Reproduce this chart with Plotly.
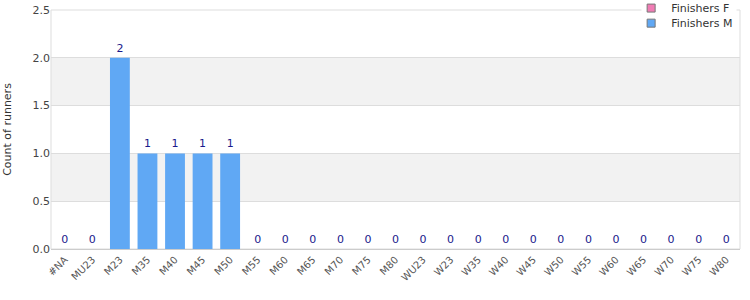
import plotly.graph_objects as go

categories = ["#NA", "MU23", "M23", "M35", "M40", "M45", "M50", "M55", "M60", "M65",
              "M70", "M75", "M80", "WU23", "W23", "W35", "W40", "W45", "W50", "W55",
              "W60", "W65", "W70", "W75", "W80"]
finishers_m = [0, 0, 2, 1, 1, 1, 1, 0, 0, 0, 0, 0, 0, 0, 0, 0, 0, 0, 0, 0, 0, 0, 0, 0, 0]
finishers_f = [None] * len(categories)
y_ticks = [0.0, 0.5, 1.0, 1.5, 2.0, 2.5]

FONT = "DejaVu Sans"
COLOR_F = "#f07cb4"
COLOR_M = "#60a8f4"

fig = go.Figure()
fig.add_trace(go.Bar(
    name="Finishers F", x=categories, y=finishers_f,
    marker=dict(color=COLOR_F), showlegend=False, legendgroup="F",
))
fig.add_trace(go.Bar(
    name="Finishers M", x=categories, y=finishers_m,
    marker=dict(color=COLOR_M, line=dict(width=0)),
    text=[str(v) for v in finishers_m], textposition="outside",
    textfont=dict(color="#1a1a8c", size=11, family=FONT),
    cliponaxis=False, width=0.72, showlegend=False, legendgroup="M",
))
# legend entries
fig.add_trace(go.Scatter(
    name="Finishers F", x=[categories[0]], y=[None], mode="markers",
    marker=dict(symbol="square", size=8, color=COLOR_F, line=dict(color="#777777", width=1)),
    legend="legend", legendgroup="F",
))
fig.add_trace(go.Scatter(
    name="Finishers M", x=[categories[0]], y=[None], mode="markers",
    marker=dict(symbol="square", size=8, color=COLOR_M, line=dict(color="#777777", width=1)),
    legend="legend2", legendgroup="M",
))

shapes = []
for i in range(len(y_ticks) - 1):
    if i % 2 == 1:
        shapes.append(dict(type="rect", xref="paper", yref="y", x0=0, x1=1,
                           y0=y_ticks[i], y1=y_ticks[i + 1],
                           fillcolor="#f2f2f2", line=dict(width=0), layer="below"))
shapes.append(dict(type="rect", xref="paper", yref="paper", x0=0, x1=1, y0=0, y1=1,
                   line=dict(color="#dddddd", width=1), fillcolor="rgba(0,0,0,0)", layer="below"))

legend_common = dict(xanchor="left", yanchor="middle", bgcolor="rgba(0,0,0,0)",
                     font=dict(size=11, color="#333333", family=FONT),
                     itemwidth=30)

fig.update_layout(
    width=750, height=300,
    margin=dict(l=51, r=10, t=10, b=51, autoexpand=False),
    paper_bgcolor="white", plot_bgcolor="white",
    barmode="overlay",
    font=dict(family=FONT, size=11, color="#444444"),
    shapes=shapes,
    showlegend=True,
    legend=dict(x=0.842, y=1.008, **legend_common),
    legend2=dict(x=0.842, y=0.945, **legend_common),
    xaxis=dict(tickangle=-45, tickfont=dict(size=10, color="#555555"),
               showgrid=False, showline=True, linecolor="#cccccc",
               ticks="", range=[-0.5, len(categories) - 0.5]),
    yaxis=dict(range=[0, 2.5], tickvals=y_ticks, tickformat=".1f",
               showgrid=True, gridcolor="#dddddd", zeroline=False,
               showline=False, ticks="", tickfont=dict(size=11, color="#444444"),
               title=dict(text="Count of runners", font=dict(size=11, color="#333333"), standoff=18)),
)
# white patch where the legend interrupts the top border
fig.add_shape(type="rect", xref="paper", yref="paper", x0=0.857, x1=0.995, y0=0.99, y1=1.01,
              fillcolor="white", line=dict(width=0), layer="above")

fig.write_html("out.html")
